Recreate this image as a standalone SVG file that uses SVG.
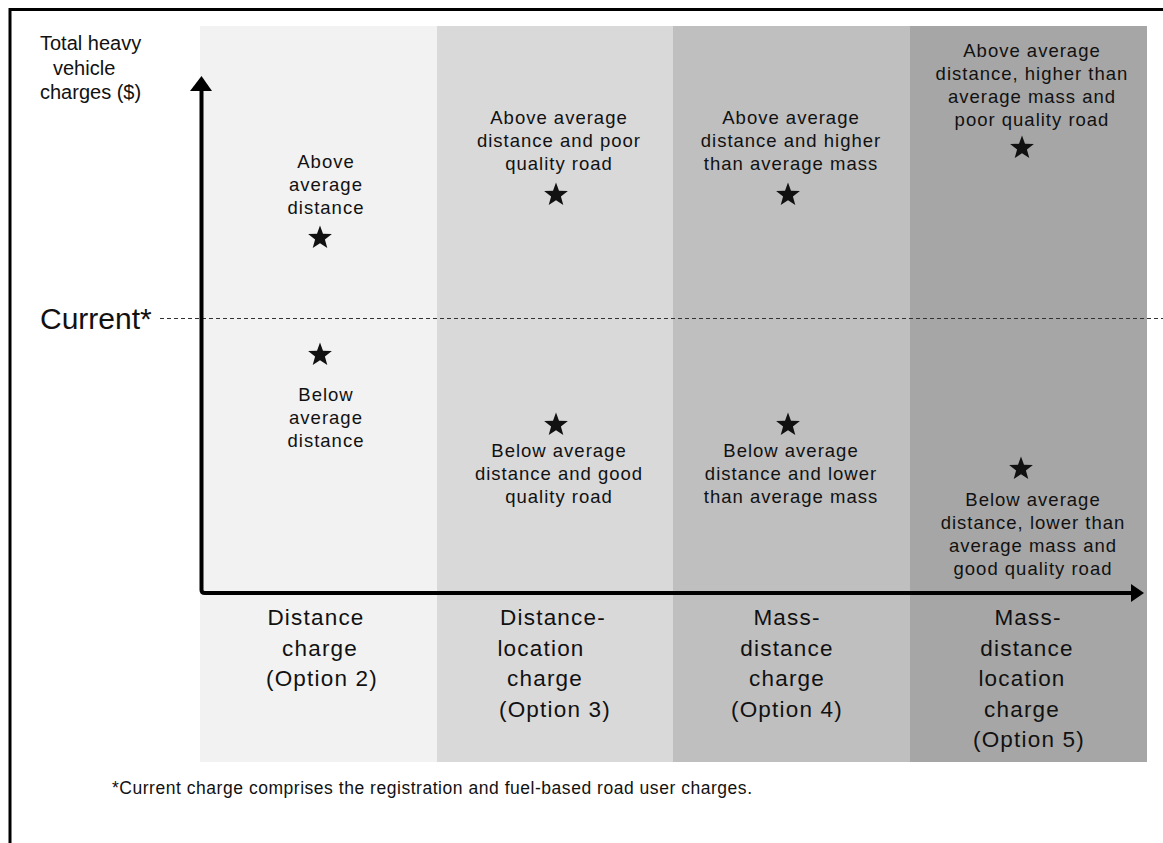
<svg xmlns="http://www.w3.org/2000/svg" width="1163" height="843" viewBox="0 0 1163 843">
<style>
text{font-family:"Liberation Sans",Arial,sans-serif;fill:#111;text-anchor:middle}
.lbl{font-size:18.5px;letter-spacing:1px}
.cat{font-size:22.5px;letter-spacing:1.2px}
.ax{font-size:20px;text-anchor:start}
</style>
<defs>
<path id="star" d="M0,-12.5 L3,-4.2 L11.9,-3.9 L4.9,1.6 L7.3,10.1 L0,5.2 L-7.3,10.1 L-4.9,1.6 L-11.9,-3.9 L-3,-4.2 Z" fill="#111"/>
</defs>
<rect width="1163" height="843" fill="#fff"/>
<g id="frame" stroke="#000" stroke-width="3" fill="none">
<path d="M10,843 V9.5 H1163"/>
</g>
<g id="columns">
<rect x="200" y="26" width="237" height="736" fill="#f2f2f2"/>
<rect x="437" y="26" width="236" height="736" fill="#d9d9d9"/>
<rect x="673" y="26" width="237" height="736" fill="#bfbfbf"/>
<rect x="910" y="26" width="237" height="736" fill="#a6a6a6"/>
</g>
<g id="axis-label">
<text class="ax" x="40" y="50">Total heavy</text>
<text class="ax" x="53" y="75">vehicle</text>
<text class="ax" x="40" y="99">charges ($)</text>
</g>
<g id="current">
<text x="40" y="329" style="text-anchor:start;font-size:30px">Current*</text>
<line x1="160" y1="318.5" x2="1163" y2="318.5" stroke="#333" stroke-width="1" stroke-dasharray="4,3"/>
</g>
<g id="connectors">
<path d="M201.5,90 V590 Q201.5,593 205,593 H1131" fill="none" stroke="#000" stroke-width="4"/>
<path d="M201.5,76 L212,91 L190,91 Z" fill="#000"/>
<path d="M1144,593 L1131,584 L1131,602 Z" fill="#000"/>
</g>
<g id="opt2-above">
<text class="lbl" x="326" y="168">Above</text>
<text class="lbl" x="326" y="191">average</text>
<text class="lbl" x="326" y="214">distance</text>
<use href="#star" x="320" y="238"/>
</g>
<g id="opt2-below">
<use href="#star" x="320" y="355"/>
<text class="lbl" x="326" y="401">Below</text>
<text class="lbl" x="326" y="424">average</text>
<text class="lbl" x="326" y="447">distance</text>
</g>
<g id="opt3-above">
<text class="lbl" x="559" y="124">Above average</text>
<text class="lbl" x="559" y="147">distance and poor</text>
<text class="lbl" x="559" y="170">quality road</text>
<use href="#star" x="556" y="195"/>
</g>
<g id="opt3-below">
<use href="#star" x="556" y="425"/>
<text class="lbl" x="559" y="457">Below average</text>
<text class="lbl" x="559" y="480">distance and good</text>
<text class="lbl" x="559" y="503">quality road</text>
</g>
<g id="opt4-above">
<text class="lbl" x="791" y="124">Above average</text>
<text class="lbl" x="791" y="147">distance and higher</text>
<text class="lbl" x="791" y="170">than average mass</text>
<use href="#star" x="788" y="195"/>
</g>
<g id="opt4-below">
<use href="#star" x="788" y="425"/>
<text class="lbl" x="791" y="457">Below average</text>
<text class="lbl" x="791" y="480">distance and lower</text>
<text class="lbl" x="791" y="503">than average mass</text>
</g>
<g id="opt5-above">
<text class="lbl" x="1032" y="57">Above average</text>
<text class="lbl" x="1032" y="80">distance, higher than</text>
<text class="lbl" x="1032" y="103">average mass and</text>
<text class="lbl" x="1032" y="126">poor quality road</text>
<use href="#star" x="1022" y="148"/>
</g>
<g id="opt5-below">
<use href="#star" x="1021" y="469"/>
<text class="lbl" x="1033" y="506">Below average</text>
<text class="lbl" x="1033" y="529">distance, lower than</text>
<text class="lbl" x="1033" y="552">average mass and</text>
<text class="lbl" x="1033" y="575">good quality road</text>
</g>
<g id="cat2">
<text class="cat" x="316" y="625">Distance</text>
<text class="cat" x="320" y="655.5">charge</text>
<text class="cat" x="322" y="686">(Option 2)</text>
</g>
<g id="cat3">
<text class="cat" x="553" y="625">Distance-</text>
<text class="cat" x="541" y="655.5">location</text>
<text class="cat" x="545" y="686">charge</text>
<text class="cat" x="555" y="716.5">(Option 3)</text>
</g>
<g id="cat4">
<text class="cat" x="787" y="625">Mass-</text>
<text class="cat" x="787" y="655.5">distance</text>
<text class="cat" x="787" y="686">charge</text>
<text class="cat" x="787" y="716.5">(Option 4)</text>
</g>
<g id="cat5">
<text class="cat" x="1028" y="625">Mass-</text>
<text class="cat" x="1027" y="655.5">distance</text>
<text class="cat" x="1022" y="686">location</text>
<text class="cat" x="1022" y="716.5">charge</text>
<text class="cat" x="1029" y="747">(Option 5)</text>
</g>
<g id="footnote">
<text x="112" y="794" textLength="640" lengthAdjust="spacing" style="text-anchor:start;font-size:17.5px">*Current charge comprises the registration and fuel-based road user charges.</text>
</g>
</svg>
